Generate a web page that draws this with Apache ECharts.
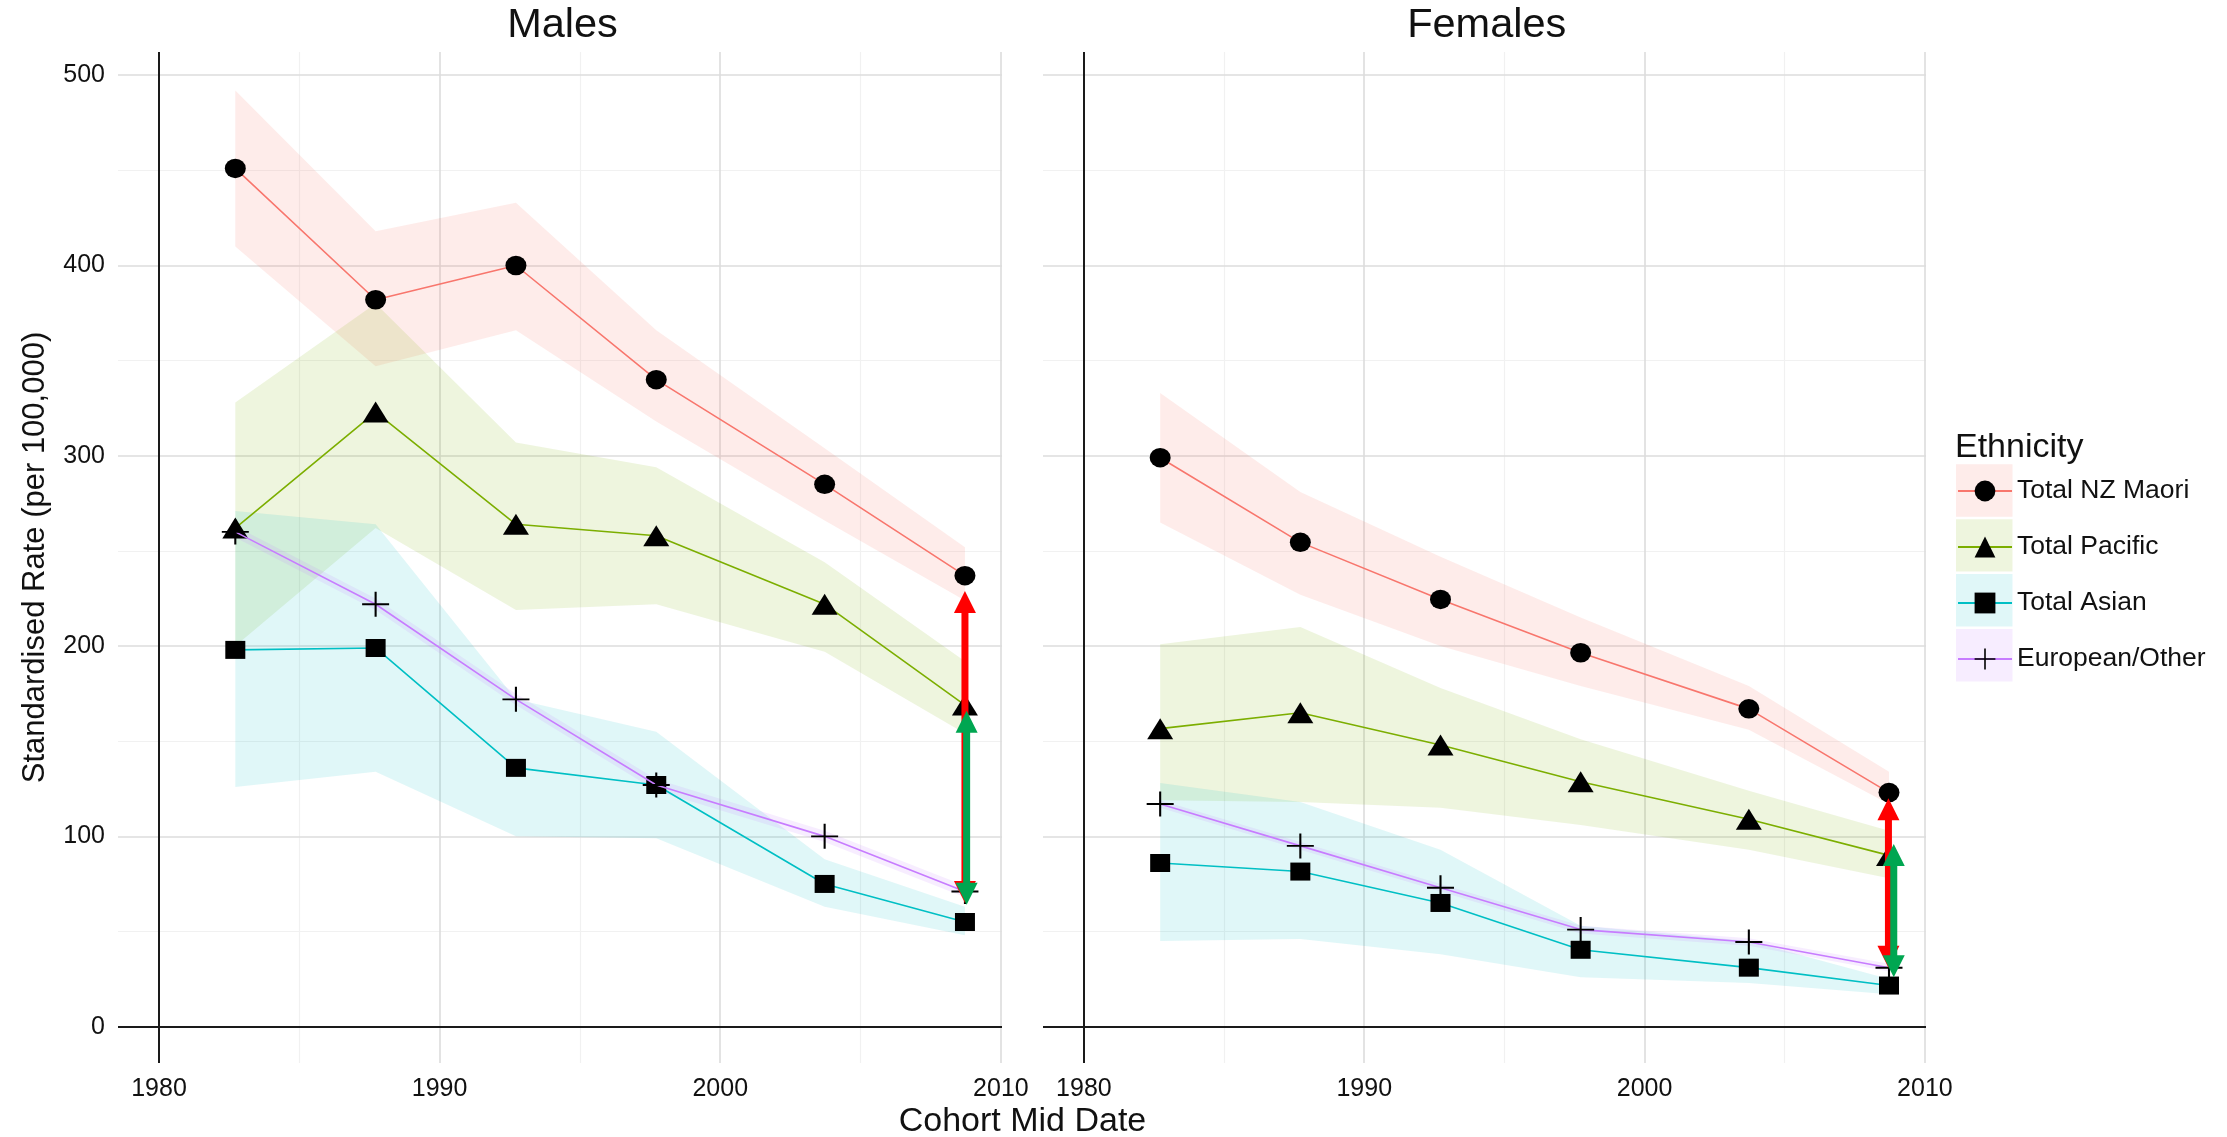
<!DOCTYPE html>
<html>
<head>
<meta charset="utf-8">
<script src="https://cdn.jsdelivr.net/npm/echarts@6/dist/echarts.min.js"></script>
<style>
  html, body { margin: 0; padding: 0; background: #ffffff; }
  #chart { width: 2227px; height: 1137px; }
</style>
</head>
<body>
<div id="chart"></div>
<script>
// Cohort mid dates (x positions of every point)
const years = [1982.72, 1987.72, 1992.72, 1997.72, 2003.72, 2008.72];

const groupNames = ['Total NZ Maori', 'Total Pacific', 'Total Asian', 'European/Other'];

// Males: standardised rate and interval bounds
const maoriM = [451, 382, 400, 340, 285, 237];
const maoriMLo = [410, 347, 366, 318, 266, 224];
const maoriMHi = [492, 418, 433, 366, 304, 252];
const pacificM = [262, 323, 264, 258, 222, 169];
const pacificMLo = [200, 262, 219, 222, 197, 154];
const pacificMHi = [328, 380, 307, 294, 244, 192];
const asianM = [198, 199, 136, 127, 75, 55];
const asianMLo = [126, 134, 100, 99, 63, 48];
const asianMHi = [271, 264, 172, 155, 88, 63];
const europeanM = [260, 222, 172, 127, 100, 71];
const europeanMLo = [257, 219, 169, 124, 97, 68];
const europeanMHi = [263, 225, 175, 130, 103, 74];

// Females: standardised rate and interval bounds
const maoriF = [299, 254.5, 224.5, 196.5, 167, 123];
const maoriFLo = [265, 227, 200, 179, 156, 117];
const maoriFHi = [333, 281, 247, 215, 179, 134];
const pacificF = [156.6, 165, 148, 128.7, 109, 90];
const pacificFLo = [119, 118, 115, 106, 93, 78];
const pacificFHi = [201, 210, 178, 151, 124, 103];
const asianF = [86, 81.5, 65, 40.4, 31, 21.6];
const asianFLo = [45, 46, 38, 26, 23, 17];
const asianFHi = [128, 118, 93, 53, 45, 25];
const europeanF = [117, 95, 73, 51, 44.5, 31];
const europeanFLo = [115, 93, 71, 49, 42.5, 29];
const europeanFHi = [119, 97, 75, 53, 46.5, 33];

// Gap arrows at the latest cohort: [Maori vs European, Pacific vs European]
const maleArrowX = [2008.72, 2008.78];
const maleArrowFrom = [65, 64];
const maleArrowTo = [229, 166];
const femaleArrowX = [2008.70, 2008.89];
const femaleArrowFrom = [31, 26];
const femaleArrowTo = [120, 96];

// Axis ticks
const xTicks = [1980, 1990, 2000, 2010];
const xMinorTicks = [1985, 1995, 2005];
const yTicks = [100, 200, 300, 400, 500];
const yMinorTicks = [50, 150, 250, 350, 450];

// ---- styling ----
const FONT = '"Liberation Sans", Arial, Helvetica, sans-serif';
const lineColors = ['#F8766D', '#7CAE00', '#00BFC4', '#C77CFF'];
const bandColors = ['rgba(248,118,109,0.14)', 'rgba(124,174,0,0.13)', 'rgba(0,191,196,0.12)', 'rgba(199,124,255,0.14)'];
const arrowColors = ['#FF0000', '#00A651'];
const PLUS = 'path://M12,0h2v12h12v2h-12v12h-2v-12h-12v-2h12z';
const symbols = ['circle', 'triangle', 'rect', PLUS];
const symbolSizes = [[21, 19.5], [26, 21], [20, 18], [27, 25]];

const X_MIN = 1978.54, X_MAX = 2010.04;
const Y_MIN = -19.1, Y_MAX = 512.2;

function ribbonRender(lo, hi, fill) {
  return function (params, api) {
    if (params.dataIndex !== 0) return;
    const upper = years.map((x, i) => api.coord([x, hi[i]]));
    const lower = years.map((x, i) => api.coord([x, lo[i]])).reverse();
    return { type: 'polygon', shape: { points: upper.concat(lower) }, style: { fill: fill } };
  };
}

function arrowRender(xs, from, to) {
  return function (params, api) {
    const i = params.dataIndex;
    const a = api.coord([xs[i], from[i]]);
    const b = api.coord([xs[i], to[i]]);
    const x = a[0], yBot = a[1], yTop = b[1];
    const hl = 22, hw = 11, sw = 3.5;
    const fill = arrowColors[i];
    return {
      type: 'group',
      children: [
        { type: 'rect', shape: { x: x - sw, y: yTop + hl - 2, width: 2 * sw, height: (yBot - yTop) - 2 * hl + 4 }, style: { fill: fill } },
        { type: 'polygon', shape: { points: [[x, yTop], [x - hw, yTop + hl], [x + hw, yTop + hl]] }, style: { fill: fill } },
        { type: 'polygon', shape: { points: [[x, yBot], [x - hw, yBot - hl], [x + hw, yBot - hl]] }, style: { fill: fill } }
      ]
    };
  };
}

function gridLineSeries(panel) {
  const major = { color: '#dcdcdc', width: 1.6, type: 'solid' };
  const minor = { color: '#f1f1f1', width: 1.2, type: 'solid' };
  const black = { color: '#1a1a1a', width: 2, type: 'solid' };
  const data = []
    .concat(xMinorTicks.map(v => ({ xAxis: v, lineStyle: minor })))
    .concat(yMinorTicks.map(v => ({ yAxis: v, lineStyle: minor })))
    .concat(xTicks.slice(1).map(v => ({ xAxis: v, lineStyle: major })))
    .concat(yTicks.map(v => ({ yAxis: v, lineStyle: major })))
    .concat([{ xAxis: 1980, lineStyle: black }, { yAxis: 0, lineStyle: black }]);
  return {
    type: 'line', name: 'grid' + panel, xAxisIndex: panel, yAxisIndex: panel, data: [],
    silent: true, animation: false,
    markLine: {
      silent: true, animation: false, z: 0, symbol: ['none', 'none'],
      label: { show: false }, lineStyle: { type: 'solid' },
      emphasis: { disabled: true }, data: data
    }
  };
}

function panelSeries(panel, vals, los, his, ax, af, at) {
  const out = [gridLineSeries(panel)];
  vals.forEach((v, k) => {
    out.push({
      type: 'custom', name: groupNames[k] + ' band', xAxisIndex: panel, yAxisIndex: panel,
      data: years.map((x, i) => [x, los[k][i], his[k][i]]), encode: { x: 0, y: [1, 2] },
      renderItem: ribbonRender(los[k], his[k], bandColors[k]), z: 1, silent: true, clip: true, animation: false
    });
  });
  vals.forEach((v, k) => {
    out.push({
      type: 'line', name: groupNames[k], xAxisIndex: panel, yAxisIndex: panel,
      data: years.map((x, i) => [x, v[i]]),
      symbol: symbols[k], symbolSize: symbolSizes[k],
      itemStyle: { color: '#000000', borderWidth: 0 },
      lineStyle: { color: lineColors[k], width: 1.6 },
      z: 3 + k, silent: true, animation: false
    });
  });
  out.push({
    type: 'custom', name: 'gap arrows ' + panel, xAxisIndex: panel, yAxisIndex: panel,
    data: ax.map((x, i) => [x, af[i], at[i]]), encode: { x: 0, y: [1, 2] },
    renderItem: arrowRender(ax, af, at), z: 10, silent: true, animation: false
  });
  return out;
}

const series = []
  .concat(panelSeries(0, [maoriM, pacificM, asianM, europeanM],
    [maoriMLo, pacificMLo, asianMLo, europeanMLo], [maoriMHi, pacificMHi, asianMHi, europeanMHi],
    maleArrowX, maleArrowFrom, maleArrowTo))
  .concat(panelSeries(1, [maoriF, pacificF, asianF, europeanF],
    [maoriFLo, pacificFLo, asianFLo, europeanFLo], [maoriFHi, pacificFHi, asianFHi, europeanFHi],
    femaleArrowX, femaleArrowFrom, femaleArrowTo));

function xAxis(gridIndex) {
  return {
    type: 'value', gridIndex: gridIndex, min: X_MIN, max: X_MAX,
    axisLine: { show: false }, axisTick: { show: false }, splitLine: { show: false },
    axisLabel: {
      customValues: xTicks, formatter: v => String(Math.round(v)),
      fontSize: 25, fontFamily: FONT, color: '#111', margin: 14
    }
  };
}
function yAxis(gridIndex, showLabels) {
  return {
    type: 'value', gridIndex: gridIndex, min: Y_MIN, max: Y_MAX,
    axisLine: { show: false }, axisTick: { show: false }, splitLine: { show: false },
    axisLabel: {
      show: showLabels, customValues: [0].concat(yTicks), formatter: v => String(Math.round(v)),
      fontSize: 25, fontFamily: FONT, color: '#111', margin: 13
    }
  };
}

function label(text, x, y, size, extra) {
  return Object.assign({
    type: 'text', x: x, y: y, silent: true,
    style: {
      text: text, font: size + 'px ' + FONT, fill: '#111',
      align: 'center', verticalAlign: 'middle', textAlign: 'center', textVerticalAlign: 'middle'
    }
  }, extra || {});
}

const keyRows = [464.3, 519.2, 574.1, 629.0];
const graphics = [
  label('Males', 562.5, 26, 41.5),
  label('Females', 1486.7, 26, 41.5),
  label('Cohort Mid Date', 1022.5, 1122, 34),
  label('Standardised Rate (per 100,000)', 35.5, 557.5, 31, { rotation: Math.PI / 2 }),
  {
    type: 'text', x: 1955, y: 447.5, silent: true,
    style: { text: 'Ethnicity', font: '34px ' + FONT, fill: '#111', align: 'left', verticalAlign: 'middle', textAlign: 'left', textVerticalAlign: 'middle' }
  }
].concat(keyRows.map((y, k) => ({
  type: 'rect', silent: true, z: -1,
  shape: { x: 1956, y: y, width: 56.5, height: 52.4 },
  style: { fill: bandColors[k] }
})));

const chart = echarts.init(document.getElementById('chart'), null, { renderer: 'canvas' });
chart.setOption({
  backgroundColor: '#ffffff',
  animation: false,
  textStyle: { fontFamily: FONT },
  grid: [
    { left: 118, top: 52, width: 884, height: 1011 },
    { left: 1043, top: 52, width: 883, height: 1011 }
  ],
  xAxis: [xAxis(0), xAxis(1)],
  yAxis: [yAxis(0, true), yAxis(1, false)],
  legend: {
    data: groupNames, orient: 'vertical', left: 1957, top: 477.5, padding: 0,
    itemWidth: 54, itemHeight: 26, itemGap: 29, selectedMode: false, z: 10,
    textStyle: { fontSize: 26.5, fontFamily: FONT, color: '#111', lineHeight: 26 }
  },
  graphic: graphics,
  series: series
});
</script>
</body>
</html>
